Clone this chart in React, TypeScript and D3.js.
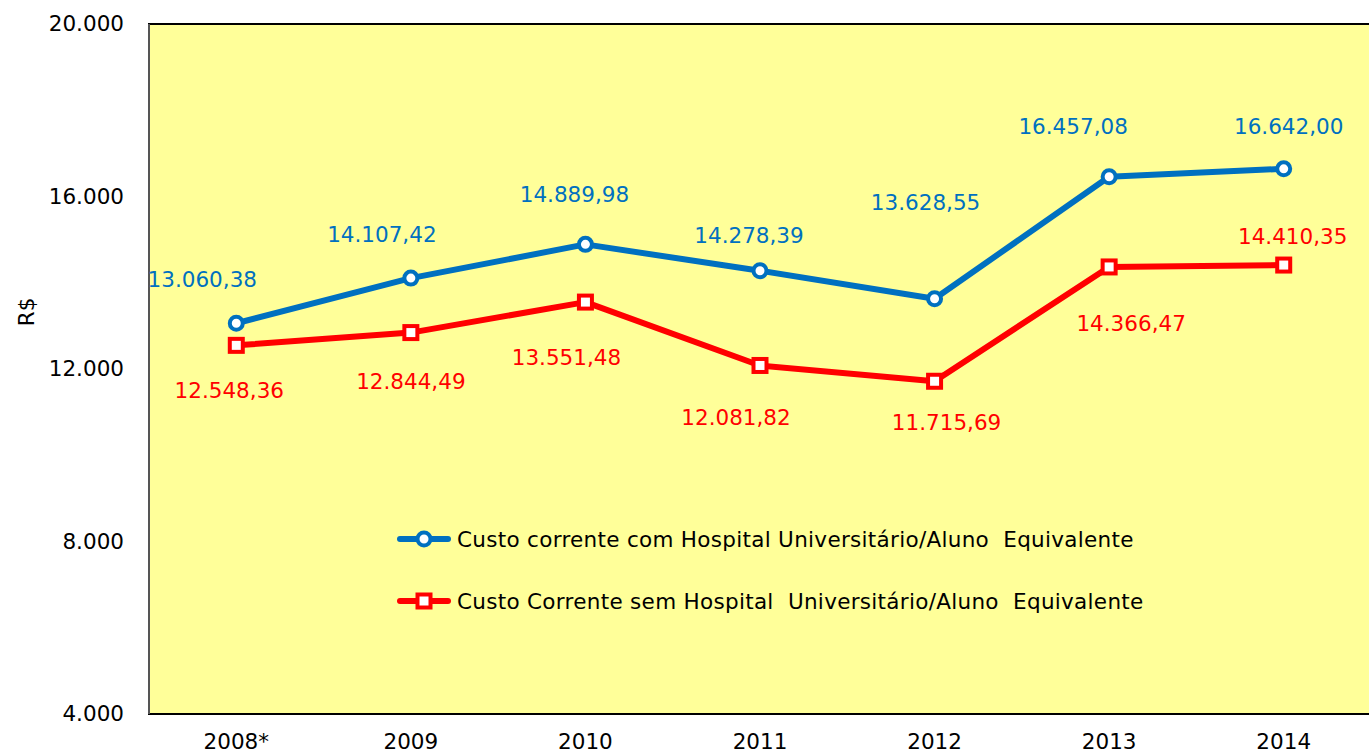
import { useEffect, useRef } from "react";
import * as d3 from "d3";

const years = ["2008*", "2009", "2010", "2011", "2012", "2013", "2014"];
const comHospital = [13060.38, 14107.42, 14889.98, 14278.39, 13628.55, 16457.08, 16642.0];
const semHospital = [12548.36, 12844.49, 13551.48, 12081.82, 11715.69, 14366.47, 14410.35];
const yTicks = [4000, 8000, 12000, 16000, 20000];
const seriesNames = [
  "Custo corrente com Hospital Universitário/Aluno  Equivalente",
  "Custo Corrente sem Hospital  Universitário/Aluno  Equivalente",
];

// hand-placed label offsets (px), as in the original spreadsheet chart
const blueLabelDx = [-34, -29, -11, -11, -9, -36, 5];
const blueLabelDy = [-44, -44, -50, -35, -97, -51, -43];
const redLabelDx = [-7, 0, -19, -24, 12, 22, 9];
const redLabelDy = [45, 49, 55, 52, 41, 56, -29];

const W = 1369;
const H = 755;
const FONT = "'DejaVu Sans', Verdana, sans-serif";
const FS = 21.5;
const BLUE = "#0070C0";
const RED = "#FF0000";

const fmt = (v: number) => {
  const [i, d] = v.toFixed(2).split(".");
  return i.replace(/\B(?=(\d{3})+(?!\d))/g, ".") + "," + d;
};
const fmtTick = (v: number) => String(v).replace(/\B(?=(\d{3})+(?!\d))/g, ".");

export default function App() {
  const ref = useRef<SVGSVGElement | null>(null);

  useEffect(() => {
    if (!ref.current) return;
    const svg = d3.select(ref.current);
    svg.selectAll("*").remove();

    const margin = { top: 24, left: 149, bottom: 714 };
    const plotRight = 1371;

    const x = d3.scaleBand<string>().domain(years).range([margin.left, plotRight]).padding(0);
    const cx = (d: string) => x(d)! + x.bandwidth() / 2;
    const y = d3.scaleLinear().domain([4000, 20000]).range([margin.bottom, margin.top]);

    // plot area
    svg
      .append("rect")
      .attr("x", margin.left)
      .attr("y", margin.top)
      .attr("width", plotRight - margin.left)
      .attr("height", margin.bottom - margin.top)
      .attr("fill", "#FFFF99")
      .attr("stroke", "#000")
      .attr("stroke-width", 2);
    svg
      .append("line")
      .attr("x1", margin.left)
      .attr("x2", margin.left)
      .attr("y1", margin.top)
      .attr("y2", margin.bottom)
      .attr("stroke", "#555")
      .attr("stroke-width", 2);

    // y axis
    const yAxis = svg
      .append("g")
      .attr("transform", `translate(${margin.left},0)`)
      .call(d3.axisLeft(y).tickValues(yTicks).tickFormat((d) => fmtTick(+d)).tickSize(0).tickPadding(25));
    yAxis.select(".domain").remove();
    yAxis.selectAll("text").attr("font-family", FONT).attr("font-size", FS).attr("fill", "#000");

    // x axis
    const xAxis = svg
      .append("g")
      .attr("transform", `translate(0,${margin.bottom})`)
      .call(d3.axisBottom(x).tickSize(0).tickPadding(20));
    xAxis.select(".domain").remove();
    xAxis.selectAll("text").attr("font-family", FONT).attr("font-size", FS).attr("fill", "#000");

    svg
      .append("text")
      .attr("transform", `translate(34,312) rotate(-90)`)
      .attr("text-anchor", "middle")
      .attr("font-family", FONT)
      .attr("font-size", FS)
      .text("R$");

    const line = d3
      .line<number>()
      .x((_, i) => cx(years[i]))
      .y((d) => y(d));

    const series = [
      { values: comHospital, color: BLUE, shape: "circle", dx: blueLabelDx, dy: blueLabelDy },
      { values: semHospital, color: RED, shape: "square", dx: redLabelDx, dy: redLabelDy },
    ];

    const drawMarker = (g: any, shape: string, color: string, px: number, py: number) => {
      if (shape === "circle") {
        g.append("circle").attr("cx", px).attr("cy", py).attr("r", 6.5).attr("fill", "#fff").attr("stroke", color).attr("stroke-width", 4);
      } else {
        g.append("rect").attr("x", px - 6.5).attr("y", py - 6.5).attr("width", 13).attr("height", 13).attr("fill", "#fff").attr("stroke", color).attr("stroke-width", 4);
      }
    };

    series.forEach((s) => {
      const g = svg.append("g");
      g.append("path")
        .datum(s.values)
        .attr("d", line)
        .attr("fill", "none")
        .attr("stroke", s.color)
        .attr("stroke-width", 6)
        .attr("stroke-linejoin", "round");
      s.values.forEach((v, i) => drawMarker(g, s.shape, s.color, cx(years[i]), y(v)));
      g.selectAll("text.lbl")
        .data(s.values)
        .join("text")
        .attr("class", "lbl")
        .attr("x", (_, i) => cx(years[i]) + s.dx[i])
        .attr("y", (d, i) => y(d) + s.dy[i])
        .attr("dy", "0.36em")
        .attr("text-anchor", "middle")
        .attr("font-family", FONT)
        .attr("font-size", FS)
        .attr("fill", s.color)
        .text((d) => fmt(d));
    });

    // legend
    const legend = svg.append("g").attr("transform", "translate(400,539)");
    series.forEach((s, i) => {
      const lg = legend.append("g").attr("transform", `translate(0,${i * 62})`);
      lg.append("line").attr("x1", 0).attr("x2", 48).attr("y1", 0).attr("y2", 0).attr("stroke", s.color).attr("stroke-width", 6).attr("stroke-linecap", "round");
      drawMarker(lg, s.shape, s.color, 24, 0);
      lg.append("text")
        .attr("x", 57)
        .attr("y", 0)
        .attr("dy", "0.36em")
        .attr("font-family", FONT)
        .attr("font-size", FS)
        .attr("letter-spacing", 0.3)
        .attr("fill", "#000")
        .style("white-space", "pre")
        .text(seriesNames[i]);
    });
  }, []);

  return <svg ref={ref} width={W} height={H} style={{ position: "absolute", left: 0, top: 0, background: "#fff" }} />;
}
